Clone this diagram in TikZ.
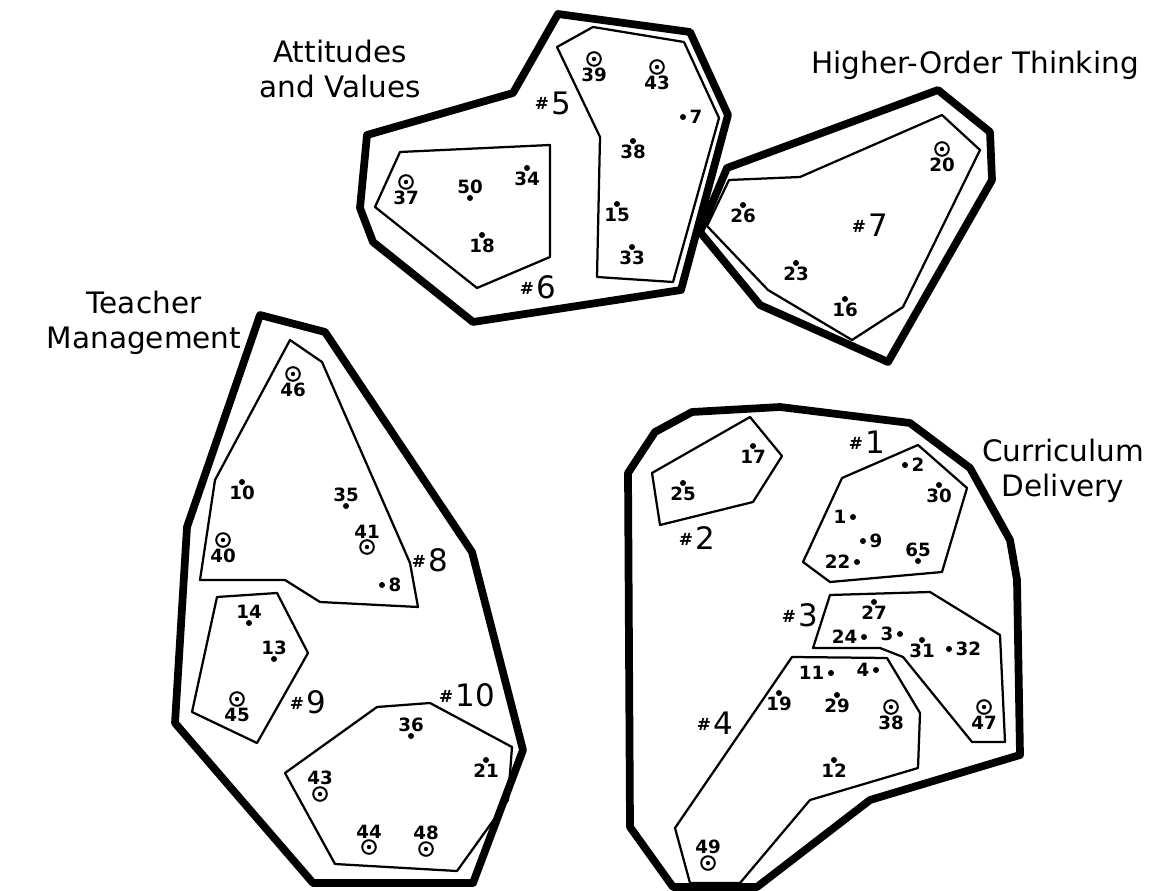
\documentclass[tikz,border=0pt]{standalone}
\usepackage{fontspec}
\setmainfont{DejaVu Sans}
\usetikzlibrary{positioning}
\newcommand{\clab}[1]{\raisebox{.55ex}{\fontsize{12}{12}\selectfont\bfseries\#}\,{\fontsize{22}{22}\selectfont #1}}

\begin{document}
\begin{tikzpicture}[
  x=0.25mm, y=-0.25mm,
  clus/.style={draw,line width=5.5pt,line join=round},
  subc/.style={draw,line width=1.6pt,line join=round},
  pt/.style={circle,fill,inner sep=0pt,minimum size=1.5mm,label distance=1.8mm},
  cpt/.style={circle,draw,line width=1.4pt,inner sep=0pt,minimum size=3.4mm,label distance=1.8mm,
              path picture={\fill (path picture bounding box.center) circle (0.55mm);}},
  num/.style={font=\fontsize{13}{13}\selectfont\bfseries,inner sep=0.5pt},
  side/.style={num,label distance=0.6mm},
  tag/.style={inner sep=0pt},
  ttl/.style={font=\fontsize{21}{25}\selectfont,align=center,inner sep=0pt}
]
\useasboundingbox (0,0) rectangle (1152,891);

% Attitudes and Values (#5, #6)
\draw[clus] (367,135) -- (513,93) -- (558,14) -- (690,32) -- (728,115) -- (681,290)
  -- (473,322) -- (373,242) -- (360,208) -- cycle;
\draw[subc] (557,47) -- (593,27) -- (684,42) -- (719,118) -- (673,282) -- (597,277)
  -- (600,137) -- cycle;
\draw[subc] (400,152) -- (550,145) -- (550,257) -- (477,288) -- (375,207) -- cycle;
\node[ttl] (avtitle) at (340,69) {Attitudes\\and Values};
\node[tag] (c5) at (553,103) {\clab{5}};
\node[tag] (c6) at (538,287) {\clab{6}};

\node[cpt,label={[num]below:37}] (av37) at (406,182) {};
\node[pt,label={[num]above:50}]  (av50) at (470,198) {};
\node[pt,label={[num]below:34}]  (av34) at (527,168) {};
\node[pt,label={[num]below:18}]  (av18) at (482,235) {};
\node[cpt,label={[num]below:39}] (av39) at (594,59) {};
\node[cpt,label={[num]below:43}] (av43) at (657,67) {};
\node[pt,label={[side]right:7}]  (av7)  at (683,117) {};
\node[pt,label={[num]below:38}]  (av38) at (633,141) {};
\node[pt,label={[num]below:15}]  (av15) at (617,204) {};
\node[pt,label={[num]below:33}]  (av33) at (632,247) {};

% Higher-Order Thinking (#7)
\draw[clus] (727,168) -- (938,90) -- (990,132) -- (992,180) -- (888,362) -- (760,305)
  -- (700,232) -- cycle;
\draw[subc] (729,180) -- (800,177) -- (942,115) -- (980,150) -- (903,307) -- (852,340)
  -- (768,290) -- (707,226) -- cycle;
\draw[densely dotted,line width=1.5pt] (724,176) -- (702,225);
\node[ttl,anchor=base] (hotitle) at (975,74) {Higher-Order Thinking};
\node[tag] (c7) at (870,225) {\clab{7}};

\node[cpt,label={[num]below:20}] (ho20) at (942,149) {};
\node[pt,label={[num]below:26}]  (ho26) at (743,205) {};
\node[pt,label={[num]below:23}]  (ho23) at (796,263) {};
\node[pt,label={[num]below:16}]  (ho16) at (845,299) {};

% Teacher Management (#8, #9, #10)
\draw[clus] (260,315) -- (325,332) -- (472,552) -- (523,750) -- (473,883) -- (313,883)
  -- (175,723) -- (187,527) -- cycle;
\draw[subc] (290,340) -- (322,362) -- (410,563) -- (418,607) -- (320,602) -- (285,580)
  -- (200,580) -- (215,480) -- cycle;
\draw[subc] (217,597) -- (277,593) -- (308,653) -- (257,743) -- (192,712) -- cycle;
\draw[subc] (285,773) -- (377,707) -- (430,703) -- (512,747) -- (508,800) -- (457,871)
  -- (335,864) -- cycle;
\node[ttl] (tmtitle) at (144,323) {Teacher\\Management};
\node[tag] (c8) at (430,560) {\clab{8}};
\node[tag] (c9) at (308,702) {\clab{9}};
\node[tag] (c10) at (467,695) {\clab{10}};

\node[cpt,label={[num]below:46}] (tm46) at (293,374) {};
\node[pt,label={[num]below:10}]  (tm10) at (242,482) {};
\node[pt,label={[num]above:35}]  (tm35) at (346,506) {};
\node[cpt,label={[num]above:41}] (tm41) at (367,547) {};
\node[cpt,label={[num]below:40}] (tm40) at (223,540) {};
\node[pt,label={[side]right:8}]  (tm8)  at (382,585) {};
\node[pt,label={[num]above:14}]  (tm14) at (249,623) {};
\node[pt,label={[num]above:13}]  (tm13) at (274,659) {};
\node[cpt,label={[num]below:45}] (tm45) at (237,699) {};
\node[pt,label={[num]above:36}]  (tm36) at (411,736) {};
\node[pt,label={[num]below:21}]  (tm21) at (486,760) {};
\node[cpt,label={[num]above:43}] (tm43) at (320,794) {};
\node[cpt,label={[num]above:44}] (tm44) at (369,847) {};
\node[cpt,label={[num]above:48}] (tm48) at (426,849) {};

% Curriculum Delivery (#1 - #4)
\draw[clus] (628,473) -- (655,432) -- (692,412) -- (780,407) -- (910,423) -- (970,468)
  -- (1010,540) -- (1017,580) -- (1020,755) -- (870,800) -- (757,887) -- (673,887)
  -- (630,827) -- cycle;
\draw[subc] (652,473) -- (750,417) -- (782,456) -- (753,502) -- (660,525) -- cycle;
\draw[subc] (842,478) -- (918,445) -- (967,488) -- (942,572) -- (830,582) -- (803,562) -- cycle;
\draw[subc] (830,595) -- (930,592) -- (1000,635) -- (1005,742) -- (972,742) -- (903,657)
  -- (880,648) -- (813,648) -- cycle;
\draw[subc] (792,657) -- (887,658) -- (920,713) -- (918,768) -- (810,800) -- (740,883)
  -- (690,883) -- (675,828) -- cycle;
\node[ttl] (cdtitle) at (1063,471) {Curriculum\\Delivery};
\node[tag] (c1) at (867,442) {\clab{1}};
\node[tag] (c2) at (697,538) {\clab{2}};
\node[tag] (c3) at (800,615) {\clab{3}};
\node[tag] (c4) at (715,723) {\clab{4}};

\node[pt,label={[num]below:17}]  (cd17) at (753,446) {};
\node[pt,label={[num]below:25}]  (cd25) at (683,483) {};
\node[pt,label={[side]right:2}]  (cd2)  at (905,465) {};
\node[pt,label={[num]below:30}]  (cd30) at (939,485) {};
\node[pt,label={[side]left:1}]   (cd1)  at (853,517) {};
\node[pt,label={[side]right:9}]  (cd9)  at (863,541) {};
\node[pt,label={[side]left:22}]  (cd22) at (857,562) {};
\node[pt,label={[num]above:65}]  (cd65) at (918,561) {};
\node[pt,label={[num]below:27}]  (cd27) at (874,602) {};
\node[pt,label={[side]left:24}]  (cd24) at (864,637) {};
\node[pt,label={[side]left:3}]   (cd3)  at (900,634) {};
\node[pt,label={[num]below:31}]  (cd31) at (922,640) {};
\node[pt,label={[side]right:32}] (cd32) at (949,649) {};
\node[cpt,label={[num]below:47}] (cd47) at (984,707) {};
\node[pt,label={[side]left:11}]  (cd11) at (831,673) {};
\node[pt,label={[side]left:4}]   (cd4)  at (876,670) {};
\node[pt,label={[num]below:19}]  (cd19) at (779,693) {};
\node[pt,label={[num]below:29}]  (cd29) at (837,695) {};
\node[cpt,label={[num]below:38}] (cd38) at (891,707) {};
\node[pt,label={[num]below:12}]  (cd12) at (834,760) {};
\node[cpt,label={[num]above:49}] (cd49) at (708,863) {};

\end{tikzpicture}
\end{document}
